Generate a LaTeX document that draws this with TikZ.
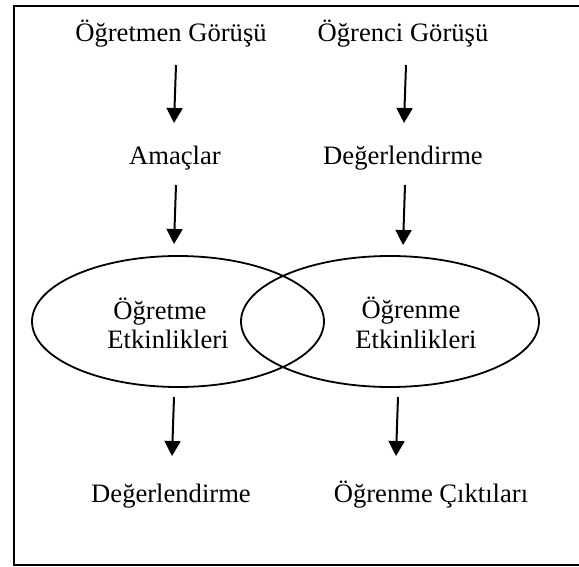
\documentclass[tikz,border=0pt]{standalone}
\usepackage{fontspec}
\setmainfont{Liberation Serif}
\usetikzlibrary{arrows.meta,shapes.geometric}

\begin{document}
\begin{tikzpicture}[x=0.5pt,y=-0.5pt,
        yazi/.style={anchor=base,inner sep=0pt,font=\fontsize{13.3pt}{16pt}\selectfont},
        ok/.style={line width=1pt,-{Triangle[length=7.5pt,width=8pt]}},
        halka/.style={draw,ellipse,line width=0.9pt,inner sep=0pt,minimum height=65.5pt}]
        \useasboundingbox (0,0) rectangle (579,567);
        \draw[line width=1pt] (600,6) -- (14,6) -- (14,565) -- (600,565);

        \node[halka,minimum width=146pt] (ogretmeHalka) at (178,321.5) {};
        \node[halka,minimum width=149pt] (ogrenmeHalka) at (390,321.5) {};

        \node[yazi] (ogretmenGorusu) at (171,42) {Öğretmen Görüşü};
        \node[yazi] (ogrenciGorusu) at (403,42) {Öğrenci Görüşü};
        \node[yazi] (amaclar) at (175,165) {Amaçlar};
        \node[yazi] (degerUst) at (403,165) {Değerlendirme};
        \node[yazi] (ogretme) at (160,319) {Öğretme};
        \node[yazi] (ogretmeEtk) at (168,348) {Etkinlikleri};
        \node[yazi] (ogrenme) at (411,318) {Öğrenme};
        \node[yazi] (ogrenmeEtk) at (416,348) {Etkinlikleri};
        \node[yazi] (degerAlt) at (171,502) {Değerlendirme};
        \node[yazi] (ciktilar) at (431,502) {Öğrenme Çıktıları};

        \coordinate (o1) at (176,65);  \coordinate (u1) at (174,123);
        \coordinate (o2) at (406,65);  \coordinate (u2) at (404,123);
        \coordinate (o3) at (176,185); \coordinate (u3) at (174,244);
        \coordinate (o4) at (405,185); \coordinate (u4) at (403,245);
        \coordinate (o5) at (174,397); \coordinate (u5) at (172,456);
        \coordinate (o6) at (398,397); \coordinate (u6) at (396,456);
        \foreach \i in {1,...,6}
          \draw[ok] (o\i) -- (u\i);
      \end{tikzpicture}
\end{document}
